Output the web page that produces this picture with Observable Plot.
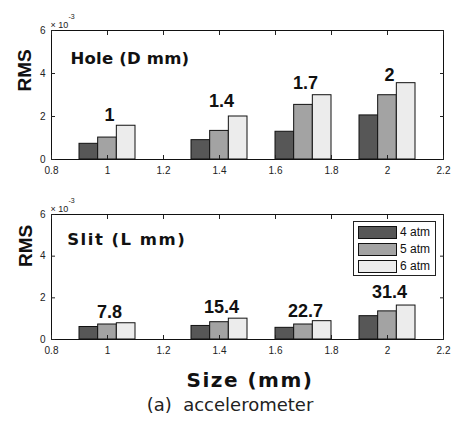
<!DOCTYPE html>
<html>
<head>
<meta charset="utf-8">
<script src="https://cdn.jsdelivr.net/npm/d3@7"></script>
<script src="https://cdn.jsdelivr.net/npm/@observablehq/plot@0.6"></script>
<style>
  body { margin: 0; background: #fff; }
  #fig { position: relative; width: 461px; height: 426px; font-family: "Liberation Sans", Arial, sans-serif; color: #222; }
  .abs { position: absolute; }
</style>
</head>
<body>
<div id="fig">
  <div id="top" class="abs" style="left:0;top:0"></div>
  <div id="bottom" class="abs" style="left:0;top:180px"></div>
  <div id="xlabel" class="abs" style="left:150px;width:200px;top:370px;line-height:20px;text-align:center;font-family:'DejaVu Sans',sans-serif;font-weight:bold;font-size:20px;letter-spacing:1.5px;color:#111">Size (mm)</div>
  <div id="caption" class="abs" style="left:80px;width:300px;top:395px;line-height:20px;text-align:center;font-family:'DejaVu Sans',sans-serif;font-size:18px;color:#222">(a)&nbsp;&nbsp;accelerometer</div>
  <div id="legend" class="abs" style="left:353px;top:221px;width:81px;height:53px;border:1px solid #222;background:#fff"></div>
</div>
<script>
const sizes = [1.0, 1.4, 1.7, 2.0];
const pressures = ["4 atm", "5 atm", "6 atm"];
const barColors = ["#575757", "#a3a3a3", "#ececec"];

const holeLabels = ["1", "1.4", "1.7", "2"];
const holeLabelY = [2.08, 2.71, 3.53, 3.94];
const hole4 = [0.73, 0.90, 1.29, 2.05];
const hole5 = [1.02, 1.33, 2.54, 2.99];
const hole6 = [1.57, 2.00, 2.99, 3.55];

const slitLabels = ["7.8", "15.4", "22.7", "31.4"];
const slitLabelY = [1.32, 1.57, 1.35, 2.25];
const slit4 = [0.60, 0.65, 0.56, 1.12];
const slit5 = [0.72, 0.83, 0.72, 1.35];
const slit6 = [0.78, 1.00, 0.88, 1.63];

const xTicks = [0.8, 1.0, 1.2, 1.4, 1.6, 1.8, 2.0, 2.2];
const xTickLabels = ["0.8", "1", "1.2", "1.4", "1.6", "1.8", "2", "2.2"];
const yTicks = [0, 2, 4, 6];
const yTickLabels = ["0", "2", "4", "6"];
const groupWidth = 0.2;

function panel({series, labels, labelY, title, titleSpacing, titleDx, titleDy, marginTop, rmsDx, rmsDy}) {
  const bw = groupWidth / pressures.length;
  const bars = sizes.flatMap((s, i) => pressures.map((p, j) => ({
    x1: s - groupWidth / 2 + j * bw,
    x2: s - groupWidth / 2 + (j + 1) * bw,
    y: series[j][i],
    p
  })));
  const lab = sizes.map((s, i) => ({x: s, y: labelY[i], t: labels[i]}));
  const xfmt = d => xTickLabels[xTicks.indexOf(d)];
  const yfmt = d => yTickLabels[yTicks.indexOf(d)];
  const svg = Plot.plot({
    width: 461,
    height: 180,
    marginLeft: 51,
    marginRight: 18,
    marginTop,
    marginBottom: 21,
    style: {fontFamily: "'Liberation Sans', Arial, sans-serif", fontSize: "10px", color: "#222", background: "transparent", overflow: "visible"},
    x: {domain: [0.8, 2.2], label: null},
    y: {domain: [0, 6], label: null},
    color: {domain: pressures, range: barColors},
    marks: [
      Plot.rectY(bars, {x1: "x1", x2: "x2", y: "y", fill: "p", stroke: "#111", strokeWidth: 1}),
      Plot.text(lab, {x: "x", y: "y", text: "t", dx: 2, fontSize: 18, fontWeight: "bold", fontFamily: "'Liberation Sans', Arial, sans-serif", fill: "#111"}),
      Plot.frame({stroke: "#111"}),
      Plot.axisX({anchor: "bottom", ticks: xTicks, tickSize: -4, tickPadding: 11.5, tickFormat: xfmt, label: null}),
      Plot.axisX({anchor: "top", ticks: xTicks, tickSize: -4, tickFormat: () => "", label: null}),
      Plot.axisY({anchor: "left", ticks: yTicks, tickSize: -4, tickPadding: 10, tickFormat: yfmt, label: null}),
      Plot.axisY({anchor: "right", ticks: yTicks, tickSize: -4, tickFormat: () => "", label: null}),
      Plot.text([title], {frameAnchor: "top-left", dx: titleDx, dy: titleDy, textAnchor: "start", fontSize: 16.5, fontWeight: "bold", fontFamily: "'DejaVu Sans', sans-serif", fill: "#111"}),
      Plot.text(["× 10"], {frameAnchor: "top-left", dx: -1, dy: -9, textAnchor: "start", fontSize: 9}),
      Plot.text(["-3"], {frameAnchor: "top-left", dx: 17, dy: -16, textAnchor: "start", fontSize: 7}),
      Plot.text(["RMS"], {frameAnchor: "top-left", dx: rmsDx, dy: rmsDy, rotate: -90, fontSize: 19, fontWeight: "bold", fill: "#111"})
    ]
  });
  d3.select(svg).selectAll("text").filter(function() { return this.textContent === title; })
    .style("letter-spacing", titleSpacing + "px");
  return svg;
}

document.getElementById("top").append(panel({
  series: [hole4, hole5, hole6], labels: holeLabels, labelY: holeLabelY,
  title: "Hole (D mm)", titleSpacing: 0.2, titleDx: 19, titleDy: 21.7,
  marginTop: 30, rmsDx: -34, rmsDy: 61
}));
document.getElementById("bottom").append(panel({
  series: [slit4, slit5, slit6], labels: slitLabels, labelY: slitLabelY,
  title: "Slit (L mm)", titleSpacing: 1.5, titleDx: 15.7, titleDy: 19,
  marginTop: 34, rmsDx: -33.5, rmsDy: 52.5
}));

// legend
const leg = document.getElementById("legend");
pressures.forEach((p, j) => {
  const sw = document.createElement("div");
  sw.className = "abs";
  Object.assign(sw.style, {left: "4px", top: (4 + j * 17) + "px", width: "37px", height: "11px", background: barColors[j], border: "1px solid #111"});
  leg.append(sw);
  const tx = document.createElement("div");
  tx.className = "abs";
  tx.textContent = p;
  Object.assign(tx.style, {left: "46px", top: (3 + j * 17) + "px", fontSize: "12px", lineHeight: "14px", color: "#111"});
  leg.append(tx);
});
</script>
</body>
</html>
